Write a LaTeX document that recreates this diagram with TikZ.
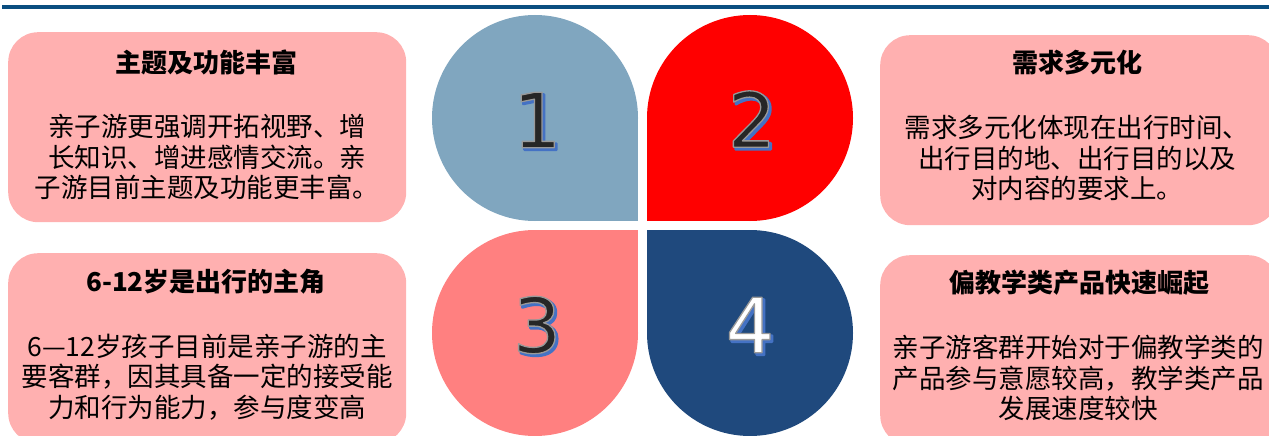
\documentclass[tikz,border=0pt]{standalone}
\usepackage{fontspec}
\newfontfamily\cjk{Noto Sans CJK SC}
\newfontfamily\numfont{DejaVu Sans}
\definecolor{topline}{RGB}{10,78,128}
\definecolor{boxpink}{RGB}{255,176,176}
\definecolor{petalA}{RGB}{128,166,191}
\definecolor{petalB}{RGB}{255,0,0}
\definecolor{petalC}{RGB}{255,128,128}
\definecolor{petalD}{RGB}{31,73,125}
\definecolor{numdark}{RGB}{38,38,38}
\definecolor{numshadow}{RGB}{68,114,196}
\tikzset{
  infobox/.style={fill=boxpink, rounded corners=30pt, minimum width=398pt,
    minimum height=190pt, inner sep=0pt, anchor=north west},
  boxtitle/.style={font=\cjk\bfseries\fontsize{26}{30}\selectfont, inner sep=0pt, text=black},
  boxbody/.style={font=\cjk\fontsize{26.5}{30.5}\selectfont, align=center, inner sep=0pt, text=black},
  numtxt/.style={font=\numfont\fontsize{76}{78}\selectfont, inner sep=0pt},
}
% outlined glyphs: fill + grey stroke (text render mode 2)
\newcommand\outlinedtext[1]{\special{pdf:literal direct 2 Tr 1 j 0.6 G 1.3 w}#1\special{pdf:literal direct 0 Tr}}
\newcommand\thicktext[1]{\special{pdf:literal direct 2 Tr 1 j 2.5 w}#1\special{pdf:literal direct 0 Tr}}
\newcommand\petalnum[5]{%
  \node[numtxt, text=numshadow, xshift=2.2pt, yshift=-2.2pt] (#1s) at (#2,#3) {\thicktext{#4}};
  \node[numtxt, text=#5] (#1) at (#2,#3) {\outlinedtext{#4}};
}
\begin{document}
\begin{tikzpicture}[x=1pt,y=-1pt]
\useasboundingbox (0,0) rectangle (1269,436);
\clip (0,0) rectangle (1269,436);
% top rule
\fill[topline] (2,5) rectangle (1269,9);

% info boxes
\node[infobox] (b1) at (8,32) {};
\node[infobox] (b2) at (880,35) {};
\node[infobox] (b3) at (8,253) {};
\node[infobox] (b4) at (880,255) {};

\node[boxtitle] (t1) at (206,62) {主题及功能丰富};
\node[boxbody] (d1) at (207,157) {亲子游更强调开拓视野、增\\长知识、增进感情交流。亲\\子游目前主题及功能更丰富。};

\node[boxtitle] (t2) at (1077,63) {需求多元化};
\node[boxbody] (d2) at (1077,158) {需求多元化体现在出行时间、\\出行目的地、出行目的以及\\对内容的要求上。};

\node[boxtitle] (t3) at (206,282) {6-12岁是出行的主角};
\node[boxbody] (d3) at (207,377) {6—12岁孩子目前是亲子游的主\\要客群，因其具备一定的接受能\\力和行为能力，参与度变高};

\node[boxtitle] (t4) at (1079,283) {偏教学类产品快速崛起};
\node[boxbody] (d4) at (1078,378) {亲子游客群开始对于偏教学类的\\产品参与意愿较高，教学类产品\\发展速度较快};

% petals
\fill[petalA] (535,118) circle[radius=103pt];
\fill[petalA] (535,118) rectangle (638,221);
\fill[petalB] (750,118) circle[radius=103pt];
\fill[petalB] (750,118) rectangle (647,221);
\fill[petalC] (535,333) circle[radius=103pt];
\fill[petalC] (535,333) rectangle (638,230);
\fill[petalD] (750,333) circle[radius=103pt];
\fill[petalD] (750,333) rectangle (647,230);

\petalnum{n1}{537}{120}{1}{numdark}
\petalnum{n2}{752}{119}{2}{numdark}
\petalnum{n3}{537}{325}{3}{numdark}
\petalnum{n4}{750}{325}{4}{white}
\end{tikzpicture}
\end{document}
